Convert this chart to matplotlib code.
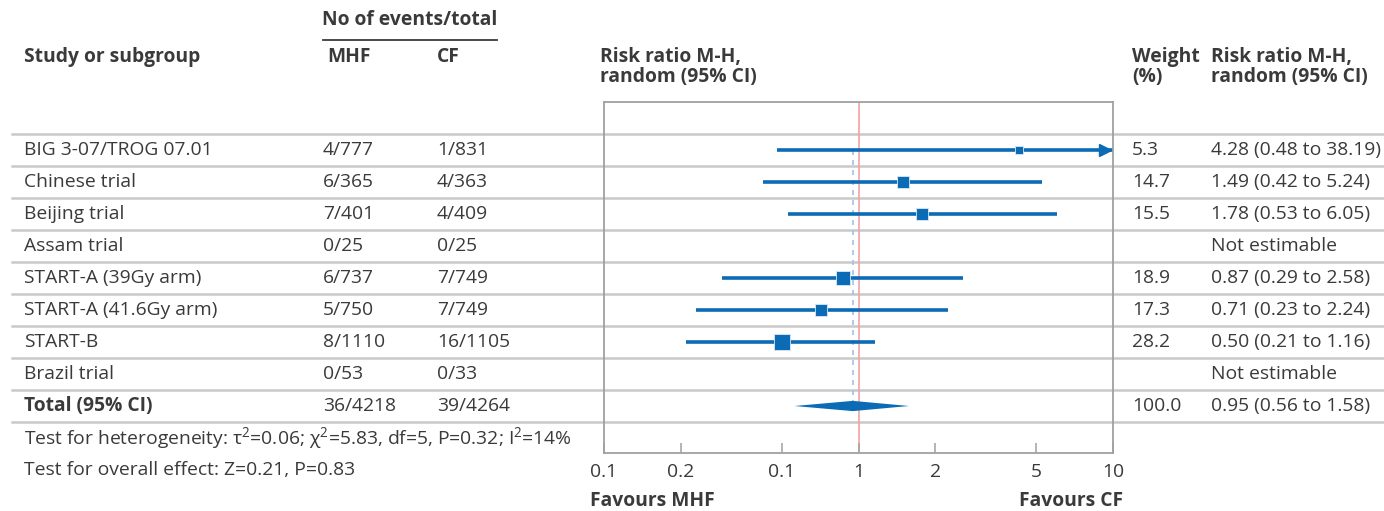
import matplotlib
matplotlib.use('Agg')
import matplotlib.pyplot as plt
import numpy as np

# ---- data ----
studies = ['BIG 3-07/TROG 07.01', 'Chinese trial', 'Beijing trial', 'Assam trial',
           'START-A (39Gy arm)', 'START-A (41.6Gy arm)', 'START-B', 'Brazil trial']
mhf = ['4/777', '6/365', '7/401', '0/25', '6/737', '5/750', '8/1110', '0/53']
cf = ['1/831', '4/363', '4/409', '0/25', '7/749', '7/749', '16/1105', '0/33']
weights = [5.3, 14.7, 15.5, None, 18.9, 17.3, 28.2, None]
rr = [4.28, 1.49, 1.78, None, 0.87, 0.71, 0.50, None]
lo = [0.48, 0.42, 0.53, None, 0.29, 0.23, 0.21, None]
hi = [38.19, 5.24, 6.05, None, 2.58, 2.24, 1.16, None]
rr_text = ['4.28 (0.48 to 38.19)', '1.49 (0.42 to 5.24)', '1.78 (0.53 to 6.05)',
           'Not estimable', '0.87 (0.29 to 2.58)', '0.71 (0.23 to 2.24)',
           '0.50 (0.21 to 1.16)', 'Not estimable']

total_mhf, total_cf = '36/4218', '39/4264'
total_rr, total_lo, total_hi = 0.95, 0.56, 1.58
total_weight = '100.0'
total_text = '0.95 (0.56 to 1.58)'

tick_vals = [0.1, 0.2, 0.5, 1, 2, 5, 10]
tick_labels = ['0.1', '0.2', '0.1', '1', '2', '5', '10']  # as printed in the source

heterogeneity = 'Test for heterogeneity: τ$^2$=0.06; χ$^2$=5.83, df=5, P=0.32; I$^2$=14%'
overall = 'Test for overall effect: Z=0.21, P=0.83'

# ---- style ----
FONT = 'Open Sans'
plt.rcParams['font.family'] = [FONT, 'DejaVu Sans']
plt.rcParams['mathtext.fontset'] = 'custom'
plt.rcParams['mathtext.rm'] = FONT
TXT = '#3a3a3a'
BLUE = '#0b6bb5'
GRID = '#c9c9c9'
FS = 13.9

W, H = 1384, 511
fig = plt.figure(figsize=(W / 100, H / 100), dpi=100)

# background axes in pixel coordinates for the table
bg = fig.add_axes([0, 0, 1, 1])
bg.set_xlim(0, W)
bg.set_ylim(H, 0)
bg.axis('off')

row0 = 150
dy = 32
n = len(studies)

# header
bg.text(24, 57, 'Study or subgroup', fontsize=FS, fontweight='bold', color=TXT, va='center')
bg.text(410, 20, 'No of events/total', fontsize=FS, fontweight='bold', color=TXT, va='center', ha='center')
bg.plot([323, 497], [40, 40], color=TXT, lw=1.3)
bg.text(327, 57, 'MHF', fontsize=FS, fontweight='bold', color=TXT, va='center')
bg.text(437, 57, 'CF', fontsize=FS, fontweight='bold', color=TXT, va='center')
bg.text(600, 67, 'Risk ratio M-H,\nrandom (95% CI)', fontsize=FS, fontweight='bold', color=TXT,
        va='center', linespacing=0.95)
bg.text(1132, 67, 'Weight\n(%)', fontsize=FS, fontweight='bold', color=TXT, va='center', linespacing=0.95)
bg.text(1211, 67, 'Risk ratio M-H,\nrandom (95% CI)', fontsize=FS, fontweight='bold', color=TXT,
        va='center', linespacing=0.95)

# row separators
for k in range(n + 2):
    y = row0 - dy / 2 + k * dy
    bg.plot([12, W], [y, y], color=GRID, lw=1.8, zorder=0)

# rows
for i in range(n):
    y = row0 + i * dy
    bg.text(24, y, studies[i], fontsize=FS, color=TXT, va='center')
    bg.text(323, y, mhf[i], fontsize=FS, color=TXT, va='center')
    bg.text(437, y, cf[i], fontsize=FS, color=TXT, va='center')
    if weights[i] is not None:
        bg.text(1132, y, f'{weights[i]:.1f}', fontsize=FS, color=TXT, va='center')
    bg.text(1211, y, rr_text[i], fontsize=FS, color=TXT, va='center')

yt = row0 + n * dy
bg.text(24, yt, 'Total (95% CI)', fontsize=FS, fontweight='bold', color=TXT, va='center')
bg.text(323, yt, total_mhf, fontsize=FS, color=TXT, va='center')
bg.text(437, yt, total_cf, fontsize=FS, color=TXT, va='center')
bg.text(1132, yt, total_weight, fontsize=FS, color=TXT, va='center')
bg.text(1211, yt, total_text, fontsize=FS, color=TXT, va='center')

bg.text(24, 439, heterogeneity, fontsize=FS, color=TXT, va='center')
bg.text(24, 470, overall, fontsize=FS, color=TXT, va='center')
bg.text(590, 501, 'Favours MHF', fontsize=FS, fontweight='bold', color=TXT, va='center')
bg.text(1123, 501, 'Favours CF', fontsize=FS, fontweight='bold', color=TXT, va='center', ha='right')

# forest axes
x0, x1, ytop, ybot = 604, 1113, 102, 453
ax = fig.add_axes([x0 / W, 1 - ybot / H, (x1 - x0) / W, (ybot - ytop) / H])
ax.set_facecolor('none')
ax.set_xscale('log')
ax.set_xlim(0.1, 10)
ax.set_ylim((ybot - row0) / dy, (ytop - row0) / dy)
for s in ax.spines.values():
    s.set_color('#a0a0a0')
    s.set_linewidth(1.3)
ax.set_yticks([])
ax.xaxis.set_minor_locator(matplotlib.ticker.NullLocator())
ax.set_xticks(tick_vals)
ax.set_xticklabels(tick_labels)
ax.tick_params(axis='x', direction='in', length=7, width=1.1, color='#a0a0a0',
               labelsize=FS, labelcolor=TXT, pad=7)

ax.axvline(1, color='#f5a3a3', lw=1.2, zorder=1)
ax.plot([total_rr, total_rr], [0, n], color='#9cc3ea', lw=1.2, ls=(0, (3, 3)), zorder=1)

for i in range(n):
    if rr[i] is None:
        continue
    right = min(hi[i], 10)
    ax.plot([lo[i], right], [i, i], color=BLUE, lw=2.6, solid_capstyle='butt', zorder=2)
    if hi[i] > 10:
        ax.plot([9.3], [i], marker='>', color=BLUE, markersize=8, zorder=3, clip_on=False)
    side = 3.05 * np.sqrt(weights[i]) * 0.72
    ax.plot([rr[i]], [i], marker='s', color=BLUE, markersize=side, markeredgecolor='#dbe9f6',
            markeredgewidth=0.6, zorder=3)

ax.fill([total_lo, total_rr, total_hi, total_rr], [n, n - 0.16, n, n + 0.16], color=BLUE,
        lw=0, zorder=3)

fig.savefig('out.png', dpi=100)
